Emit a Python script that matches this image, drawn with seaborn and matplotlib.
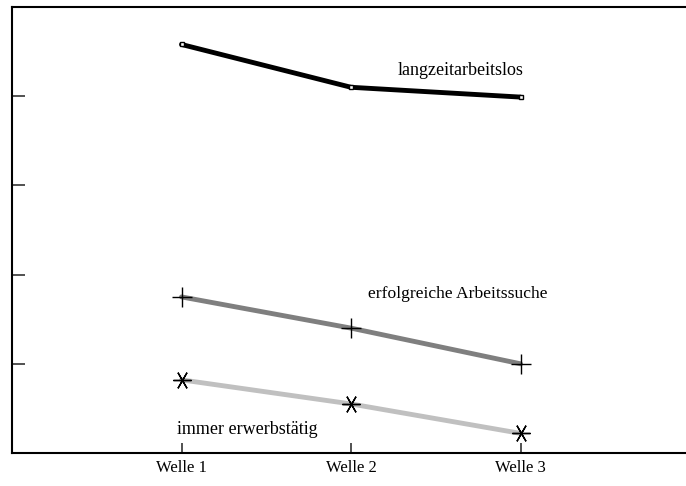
import seaborn as sns
import matplotlib.pyplot as plt
import pandas as pd

# data
wellen = [1, 2, 3]
wellen_labels = ['Welle 1', 'Welle 2', 'Welle 3']
langzeit = [4.58, 4.10, 3.99]
erfolgreich = [1.75, 1.40, 1.00]
immer = [0.82, 0.55, 0.22]

sns.set_style('white')
plt.rcParams['font.family'] = ['Liberation Serif', 'DejaVu Serif']
plt.rcParams['text.color'] = 'black'
plt.rcParams['xtick.color'] = 'black'

fig = plt.figure(figsize=(6.86, 4.86), dpi=100)
ax = fig.add_axes([12 / 686, 33 / 486, 678 / 686, 446 / 486])

series = [
    (langzeit, 'black', 's', 'white', 3.5, 1.0),
    (erfolgreich, '#7f7f7f', '+', 'black', 14, 1.0),
    (immer, '#c0c0c0', (6, 2, 90), 'black', 13, 1.0),
]
for vals, col, mk, mfc, ms, mew in series:
    df = pd.DataFrame({'welle': wellen, 'wert': vals})
    sns.lineplot(data=df, x='welle', y='wert', color=col, lw=3.5, ax=ax,
                 marker=mk, mfc=mfc, mec='black', ms=ms, mew=mew)

ax.text(2.277, 4.29, 'langzeitarbeitslos', fontsize=13, va='center', color='black')
ax.text(2.10, 1.78, 'erfolgreiche Arbeitssuche', fontsize=12.6, va='center', color='black')
ax.text(0.973, 0.26, 'immer erwerbstätig', fontsize=13, va='center', color='black')

ax.set_xlim(0, 4)
ax.set_ylim(0, 5)
ax.set_xticks(wellen)
ax.set_xticklabels(wellen_labels, fontsize=12, color='black')
ax.set_yticks([1, 2, 3, 4])
ax.set_yticklabels([])
ax.set_xlabel('')
ax.set_ylabel('')
ax.tick_params(axis='both', direction='in', color='#333333', width=1.2)
ax.tick_params(axis='x', length=7.5, pad=5, bottom=True)
ax.tick_params(axis='y', length=9, left=True)
for s in ['left', 'bottom', 'top']:
    ax.spines[s].set_linewidth(1.5)
    ax.spines[s].set_color('black')
ax.spines['right'].set_visible(False)

fig.savefig('out.png', dpi=100)
